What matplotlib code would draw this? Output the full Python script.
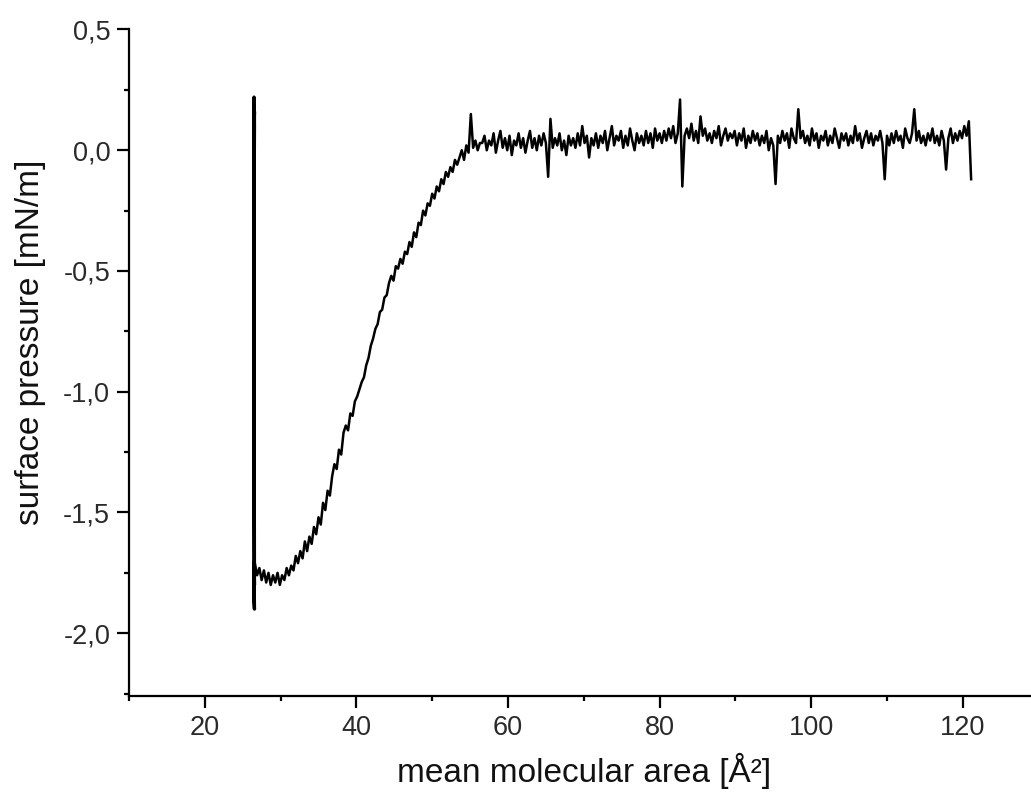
import numpy as np
import matplotlib.pyplot as plt
from matplotlib.ticker import MultipleLocator, FuncFormatter

plt.rcParams['font.family'] = ['Liberation Sans', 'DejaVu Sans']

# vertical jump at the end of compression (area ~26.5)
wall_area = [26.50, 26.45, 26.55, 26.50, 26.45, 26.55, 26.50, 26.45, 26.55, 26.50, 26.45, 26.55, 26.50]
wall_pressure = [-1.71, -1.85, -1.90, -1.74, -0.60, 0.10, 0.22, 0.00, 0.16, -0.05, 0.12, -1.80, -1.72]

# isotherm, area from 26.6 to 121.1 (step 0.3)
area_start, area_end = 26.6, 121.1
pressure = [
    -1.71, -1.76, -1.73, -1.78, -1.74, -1.79, -1.75, -1.80, -1.76, -1.79,
    -1.75, -1.80, -1.76, -1.78, -1.73, -1.76, -1.72, -1.74, -1.68, -1.71,
    -1.66, -1.69, -1.62, -1.66, -1.60, -1.63, -1.56, -1.59, -1.52, -1.55,
    -1.46, -1.49, -1.41, -1.43, -1.35, -1.30, -1.32, -1.24, -1.26, -1.17,
    -1.14, -1.16, -1.09, -1.10, -1.04, -1.02, -0.99, -0.96, -0.94, -0.89,
    -0.86, -0.81, -0.78, -0.74, -0.72, -0.67, -0.66, -0.61, -0.60, -0.55,
    -0.52, -0.54, -0.48, -0.49, -0.45, -0.47, -0.42, -0.43, -0.38, -0.40,
    -0.34, -0.36, -0.30, -0.31, -0.25, -0.27, -0.22, -0.23, -0.18, -0.20,
    -0.15, -0.17, -0.12, -0.14, -0.09, -0.11, -0.07, -0.09, -0.04, -0.06,
    -0.03, 0.00, -0.04, 0.02, -0.01, 0.15, 0.01, 0.04, 0.00, 0.03,
    0.03, 0.06, 0.00, 0.04, 0.02, 0.07, -0.01, 0.04, 0.08, 0.01,
    0.05, 0.00, 0.06, -0.02, 0.04, 0.02, 0.07, 0.01, 0.05, -0.01,
    0.04, 0.08, 0.01, 0.05, 0.00, 0.06, 0.02, 0.07, 0.03, -0.11,
    0.13, 0.01, 0.05, 0.02, 0.07, 0.00, 0.04, -0.02, 0.06, 0.02,
    0.05, 0.01, 0.07, 0.02, 0.10, 0.03, 0.06, -0.03, 0.05, 0.02,
    0.07, 0.01, 0.06, 0.03, 0.08, 0.00, 0.05, 0.10, 0.02, 0.06,
    0.04, 0.08, 0.01, 0.06, 0.02, 0.09, 0.04, 0.00, 0.07, 0.03,
    0.06, 0.02, 0.08, 0.03, 0.07, 0.01, 0.09, 0.04, 0.07, 0.03,
    0.08, 0.04, 0.09, 0.05, 0.10, 0.03, 0.07, 0.21, -0.15, 0.06,
    0.09, 0.05, 0.11, 0.04, 0.08, 0.03, 0.14, 0.06, 0.09, 0.04,
    0.07, 0.03, 0.08, 0.05, 0.10, 0.02, 0.06, 0.09, 0.04, 0.07,
    0.05, 0.08, 0.02, 0.07, 0.04, 0.09, 0.01, 0.06, 0.03, 0.08,
    0.04, 0.07, 0.02, 0.06, 0.03, 0.08, 0.00, 0.05, 0.02, -0.14,
    0.06, 0.03, 0.08, 0.04, 0.07, 0.01, 0.09, 0.05, 0.03, 0.17,
    0.05, 0.08, 0.03, 0.06, 0.02, 0.09, 0.04, 0.07, 0.01, 0.06,
    0.04, 0.08, 0.02, 0.06, 0.03, 0.09, 0.05, 0.01, 0.07, 0.04,
    0.07, 0.02, 0.06, 0.03, 0.10, 0.04, 0.07, 0.01, 0.05, 0.08,
    0.03, 0.07, 0.02, 0.06, 0.04, 0.08, 0.03, -0.12, 0.06, 0.02,
    0.07, 0.03, 0.08, 0.04, 0.06, 0.01, 0.09, 0.05, 0.03, 0.07,
    0.17, 0.04, 0.08, 0.03, 0.06, 0.02, 0.07, 0.04, 0.09, 0.03,
    0.06, 0.02, 0.08, 0.04, -0.08, 0.05, 0.09, 0.03, 0.07, 0.04,
    0.08, 0.05, 0.10, 0.06, 0.12, -0.12,
]
area = np.linspace(area_start, area_end, len(pressure))

fig = plt.figure(figsize=(10.31, 7.96), dpi=100)
ax = fig.add_axes([129 / 1031, 1 - 696 / 796, (1031 - 129) / 1031, (696 - 29.5) / 796])

ax.plot(area, pressure, color='black', lw=1.8)
ax.plot(wall_area, wall_pressure, color='black', lw=2.4)

ax.set_xlim(10, 129)
ax.set_ylim(-2.26, 0.5)

for s in ['top', 'right']:
    ax.spines[s].set_visible(False)
for s in ['left', 'bottom']:
    ax.spines[s].set_linewidth(1.6)

ax.xaxis.set_major_locator(MultipleLocator(20))
ax.xaxis.set_minor_locator(MultipleLocator(10))
ax.yaxis.set_major_locator(MultipleLocator(0.5))
ax.yaxis.set_minor_locator(MultipleLocator(0.25))
ax.yaxis.set_major_formatter(FuncFormatter(lambda v, p: f'{v:.1f}'.replace('.', ',')))

ax.tick_params(which='major', direction='out', length=8.5, width=1.6,
               labelsize=19.5, labelcolor='#2a2a2a', pad=5)
ax.tick_params(which='minor', direction='out', length=3.6, width=1.6)

ax.set_xlabel('mean molecular area [Å²]', fontsize=24, color='#111111',
              labelpad=9, x=0.504)
ax.set_ylabel('surface pressure [mN/m]', fontsize=24, color='#111111',
              labelpad=12.5, y=0.531)

fig.savefig('out.png', dpi=100)
